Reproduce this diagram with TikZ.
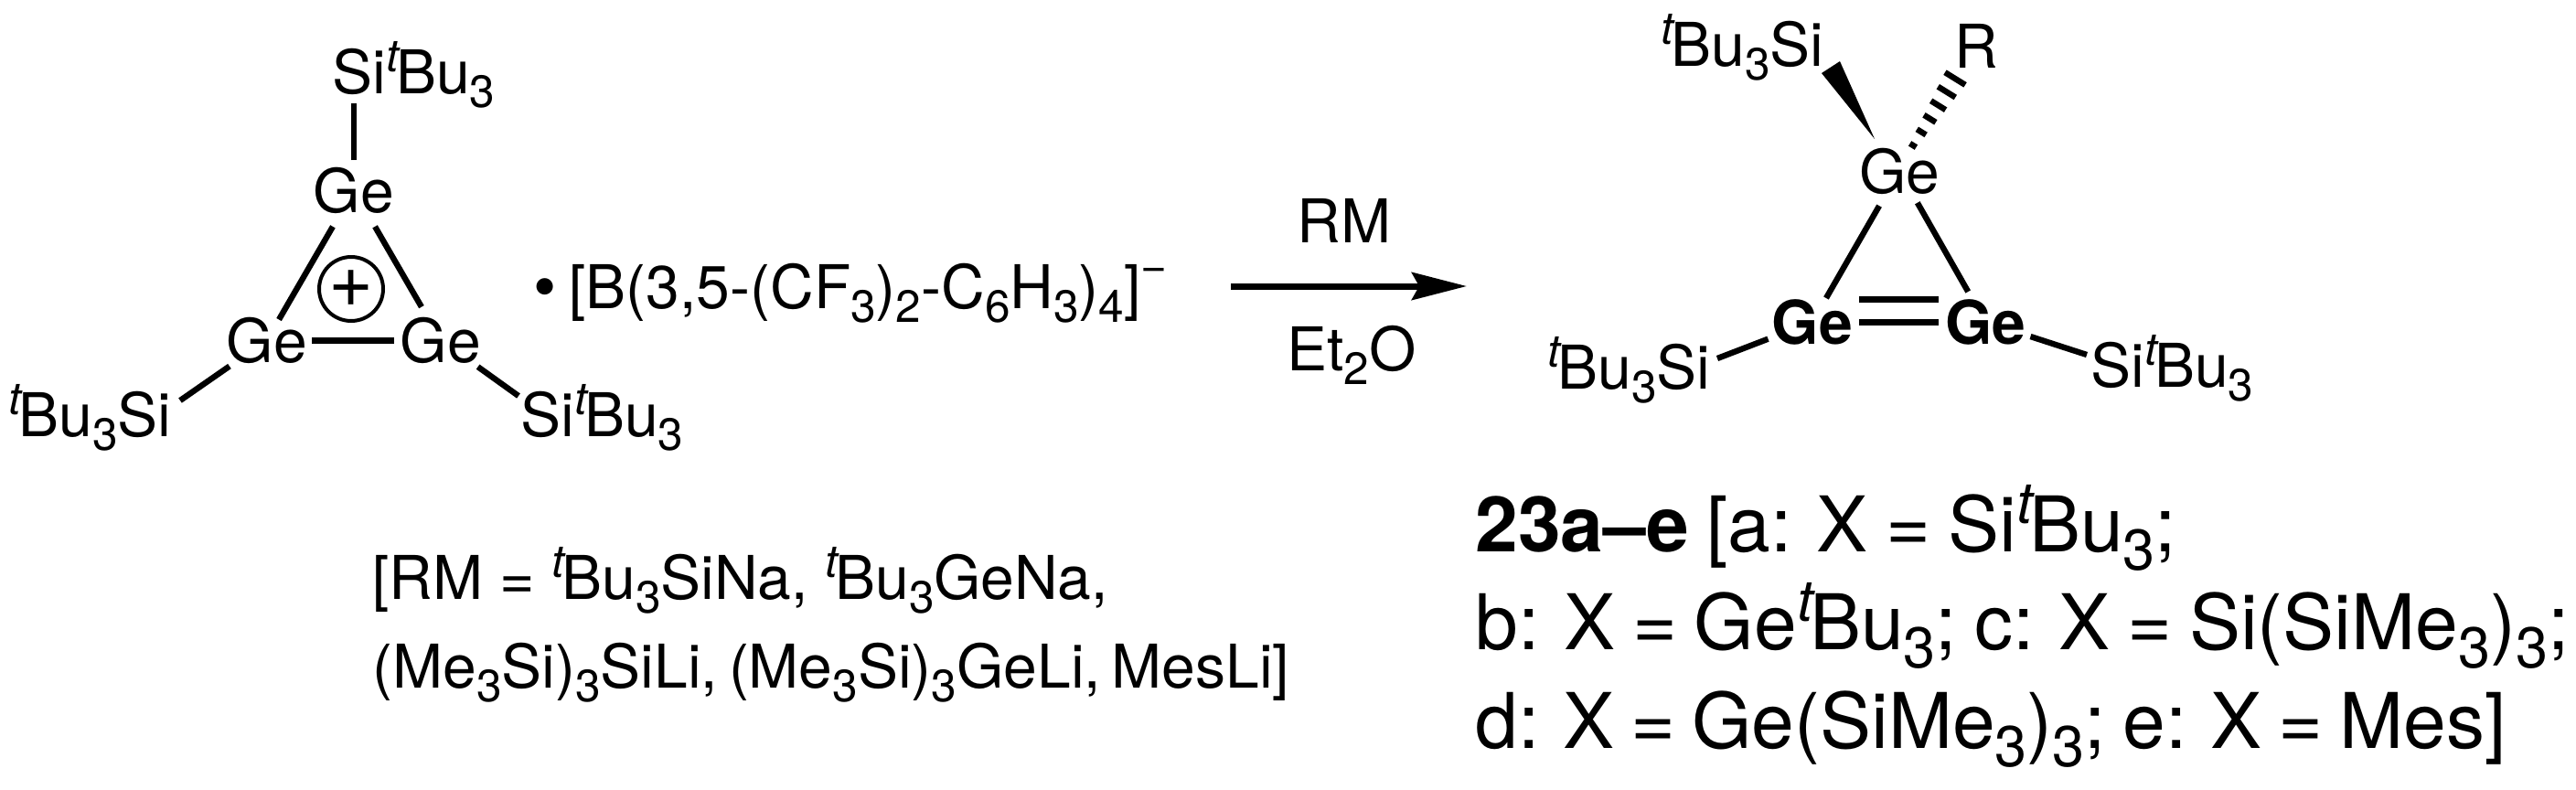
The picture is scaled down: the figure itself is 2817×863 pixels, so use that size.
\documentclass[tikz,border=0pt]{standalone}
\usepackage{fontspec}
\usepackage{graphicx}
\setmainfont{TeX Gyre Heros}
\usetikzlibrary{arrows.meta}
\newcommand{\sbs}[1]{\raisebox{-.24em}{\scalebox{.75}{#1}}}
\newcommand{\tert}{\raisebox{.36em}{\scalebox{.75}{\textit{t}}}\kern-.07em}
\newcommand{\spm}{\raisebox{.44em}{\scalebox{.75}{−}}}
\tikzset{
  x=0.5pt,y=-0.5pt,
  bond/.style={line width=3.2pt,line cap=butt,black},
  atom/.style={inner sep=0pt,font=\fontsize{33}{33}\selectfont},
  batom/.style={atom,font=\fontsize{33}{33}\selectfont\bfseries},
  lab/.style={inner sep=0pt,anchor=base west,font=\fontsize{33}{33}\selectfont},
  biglab/.style={inner sep=0pt,anchor=base west,font=\fontsize{42}{42}\selectfont},
}
\begin{document}
\begin{tikzpicture}
\useasboundingbox (0,0) rectangle (2817,863);
% --- cation ---
\node[atom] (g1) at (387,208) {Ge};
\node[atom] (g2) at (292,372) {Ge};
\node[atom] (g3) at (482,372) {Ge};
\node[lab] (s1) at (363,102) {Si\tert Bu\sbs{3}};
\node[lab] (s2) at (9,477) {\tert Bu\sbs{3}Si};
\node[lab] (s3) at (569,477) {Si\tert Bu\sbs{3}};
\coordinate (s1e) at (387,113);
\coordinate (s2e) at (197,438);
\coordinate (s3e) at (567,433);
\draw[bond,shorten <=16.5pt] (g1.center) -- (s1e);
\draw[bond,shorten <=23pt,shorten >=13pt] (g1.center) -- (g2.center);
\draw[bond,shorten <=23pt,shorten >=21pt] (g1.center) -- (g3.center);
\draw[bond,line width=3.5pt,shorten <=24.5pt,shorten >=25.5pt] (g2.center) -- (g3.center);
\draw[bond,shorten <=25pt] (g2.center) -- (s2e);
\draw[bond,shorten <=25pt] (g3.center) -- (s3e);
\node[circle,draw,line width=2pt,minimum size=35pt,inner sep=0pt,font=\fontsize{42}{42}\selectfont] (chg) at (384,316) {+};
\node[lab,anchor=base,font=\fontsize{36}{36}\selectfont] (dot) at (596,338) {•};
\node[lab] (anion) at (622,337) {[B(3,5-(CF\sbs{3})\sbs{2}-C\sbs{6}H\sbs{3})\sbs{4}]\spm};
% --- arrow ---
\coordinate (a1) at (1346,313);
\coordinate (a2) at (1604,313);
\draw[bond,line width=3.5pt,-{Stealth[length=30pt,width=15pt,inset=4pt]}] (a1) -- (a2);
\node[lab,anchor=base] (rm) at (1470,265) {RM};
\node[lab,anchor=base] (et) at (1478,405) {Et\sbs{2}O};
% --- product ---
\node[atom] (h1) at (2077,187) {Ge};
\node[batom] (h2) at (1982,352) {Ge};
\node[batom] (h3) at (2171,352) {Ge};
\node[lab] (p1) at (1816,72) {\tert Bu\sbs{3}Si};
\node[lab] (r) at (2137,74) {R};
\node[lab] (p2) at (1692,425) {\tert Bu\sbs{3}Si};
\node[lab] (p3) at (2286,423) {Si\tert Bu\sbs{3}};
\coordinate (w1) at (2050,152);
\coordinate (w2) at (1992,80);
\coordinate (w3) at (2012,67);
\fill[black] (w1) -- (w2) -- (w3) -- cycle;
\coordinate (p2e) at (1878,392);
\coordinate (p3e) at (2282,388);
\draw[bond,shorten <=22pt,shorten >=15pt] (h1.center) -- (h2.center);
\draw[bond,shorten <=20pt,shorten >=19pt] (h1.center) -- (h3.center);
\draw[bond,line width=3.5pt,shorten <=25.5pt,shorten >=25.5pt] (h2.center) -- (h3.center);
\draw[bond,line width=3.5pt,shorten <=25.5pt,shorten >=25.5pt] ([yshift=12.5pt]h2.center) -- ([yshift=12.5pt]h3.center);
\draw[bond,shorten <=26pt] (h2.center) -- (p2e);
\draw[bond,shorten <=26pt] (h3.center) -- (p3e);
\foreach \i in {0,...,5}{
  \pgfmathsetmacro{\cx}{2092+46*\i/5}
  \pgfmathsetmacro{\cy}{159-73*\i/5}
  \pgfmathsetmacro{\hw}{4+9*\i/5}
  \draw[line width=3.2pt,black] (\cx-.85*\hw,\cy-.526*\hw) -- (\cx+.85*\hw,\cy+.526*\hw);
}
% --- captions ---
\node[lab] (c1) at (407,655) {[RM = \tert Bu\sbs{3}SiNa, \tert Bu\sbs{3}GeNa,};
\node[lab] (c2) at (407,752) {\spaceskip=.18em (Me\sbs{3}Si)\sbs{3}SiLi, (Me\sbs{3}Si)\sbs{3}GeLi, MesLi]};
\node[biglab] (d1) at (1613,603) {\spaceskip=.23em \textbf{23a–e} [a: X = Si\tert Bu\sbs{3};};
\node[biglab] (d2) at (1613,710) {\spaceskip=.225em b: X = Ge\tert Bu\sbs{3}; c: X = Si(SiMe\sbs{3})\sbs{3};};
\node[biglab] (d3) at (1613,818) {\spaceskip=.215em d: X = Ge(SiMe\sbs{3})\sbs{3}; e: X = Mes]};
\end{tikzpicture}
\end{document}
